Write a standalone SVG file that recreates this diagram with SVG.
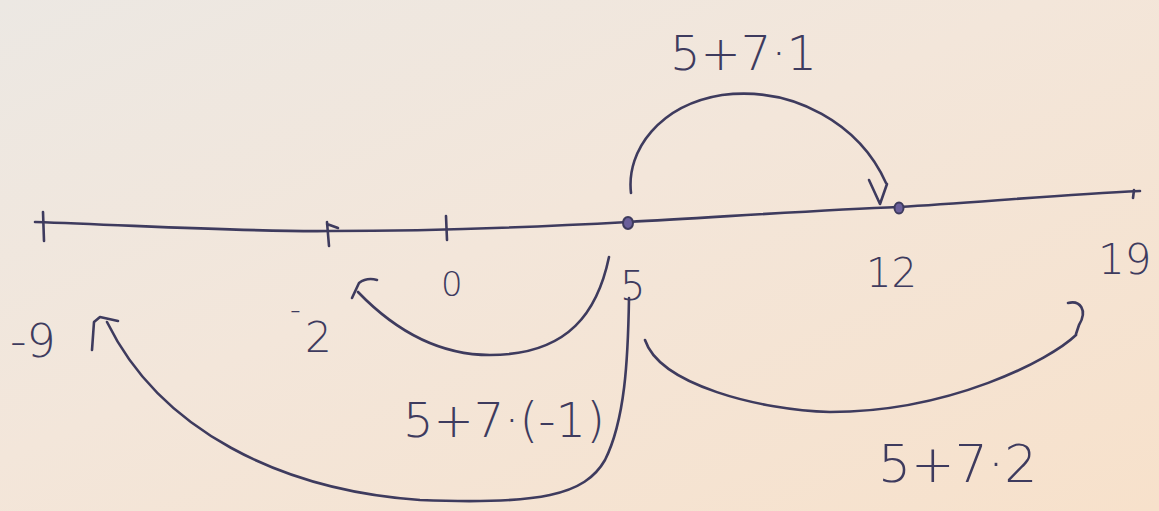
<svg xmlns="http://www.w3.org/2000/svg" width="1159" height="511" viewBox="0 0 1159 511">
<defs>
<linearGradient id="paper" x1="0" y1="0" x2="1" y2="1">
<stop offset="0" stop-color="#ece8e3"/>
<stop offset="0.45" stop-color="#f3e6da"/>
<stop offset="1" stop-color="#f7e1cb"/>
</linearGradient>
<style>
.ink{fill:none;stroke:#3e3b5e;stroke-width:2.6;stroke-linecap:round;stroke-linejoin:round}
.lbl{font-family:"DejaVu Sans","Liberation Sans",sans-serif;font-weight:300;fill:#3e3b5e}
.pt{fill:#6a5f9a;stroke:#3e3b5e;stroke-width:2}
</style>
</defs>
<rect width="1159" height="511" fill="url(#paper)"/>
<g id="axis">
<path class="ink" d="M35,222 C150,226 250,232 330,231 C420,231 520,228 628,222 C720,217 820,210 899,207 C980,202 1060,195 1140,191"/>
<path class="ink" d="M43,212 L44,241"/>
<path class="ink" d="M327,222 L329,246 M327,224 L338,228"/>
<path class="ink" d="M446,216 L447,240"/>
<path class="ink" d="M1134,190 L1133,198"/>
</g>
<g id="point5">
<ellipse class="pt" cx="628" cy="223" rx="5" ry="6"/>
</g>
<g id="point12">
<ellipse class="pt" cx="899" cy="208" rx="4.5" ry="5.5"/>
</g>
<g id="labels">
<text class="lbl" x="10" y="357" font-size="46">-9</text>
<text class="lbl" x="290" y="320" font-size="30">-</text>
<text class="lbl" x="305" y="352" font-size="42">2</text>
<text class="lbl" x="441" y="296" font-size="34">0</text>
<text class="lbl" x="620" y="300" font-size="40">5</text>
<text class="lbl" x="866" y="287" font-size="40">12</text>
<text class="lbl" x="1098" y="274" font-size="42">19</text>
<text class="lbl" x="670" y="70" font-size="48">5+7·1</text>
<text class="lbl" x="403" y="437" font-size="48">5+7·(-1)</text>
<text class="lbl" x="878" y="482" font-size="52">5+7·2</text>
</g>
<g id="connectors">
<path class="ink" d="M631,193 C626,150 660,105 722,95 C795,86 860,125 886,183"/>
<path class="ink" d="M869,180 L880,204 L887,184"/>
<path class="ink" d="M609,257 C598,310 570,355 490,355 C430,355 385,320 358,292"/>
<path class="ink" d="M352,298 L359,283 C363,280 370,278 377,280"/>
<path class="ink" d="M629,298 C628,360 625,420 605,460 C585,495 540,505 420,500 C280,490 160,430 107,322"/>
<path class="ink" d="M92,350 L94,322 L100,317 L118,321"/>
<path class="ink" d="M645,340 C660,385 760,410 830,412 C950,412 1050,360 1076,335"/>
<path class="ink" d="M1068,303 C1080,300 1088,310 1079,325 L1076,334"/>
</g>
</svg>
